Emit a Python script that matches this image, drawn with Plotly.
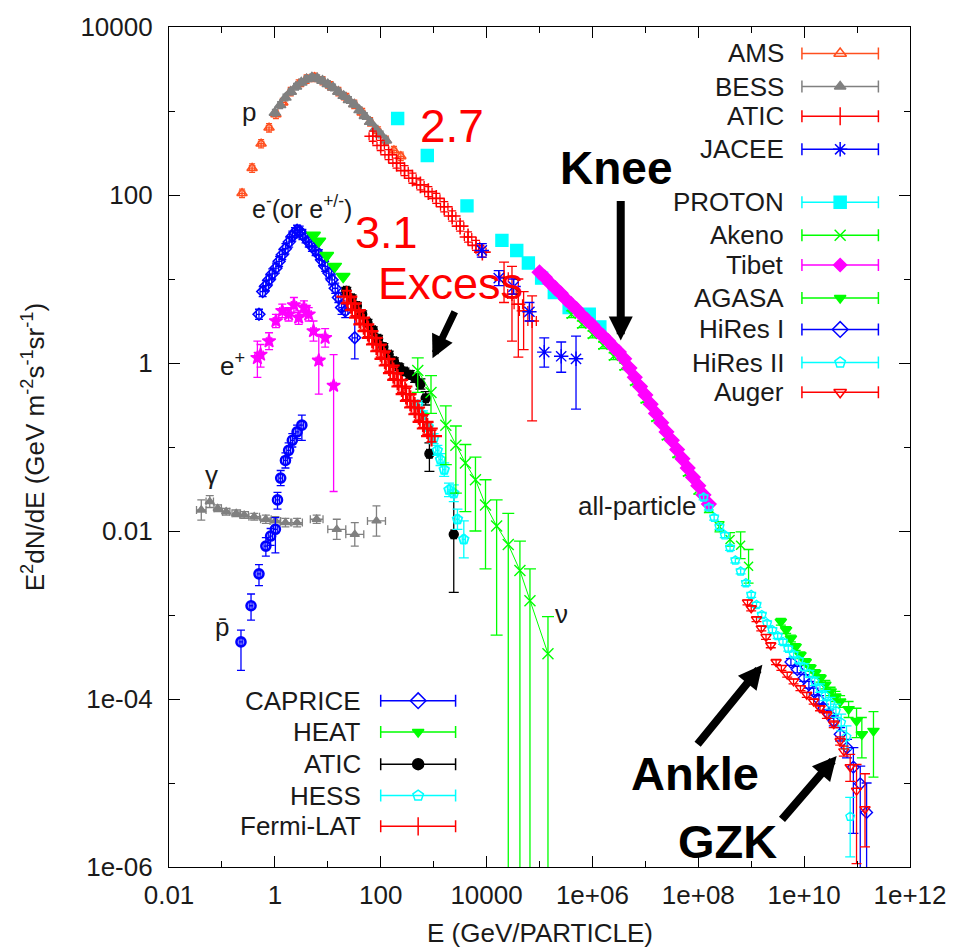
import numpy as np
import plotly.graph_objects as go

# ---------------- axis ticks ----------------
X_TICKS = [1e-2, 1e0, 1e2, 1e4, 1e6, 1e8, 1e10, 1e12]
X_TICKTEXT = ["0.01", "1", "100", "10000", "1e+06", "1e+08", "1e+10", "1e+12"]
X_MINOR = [1e-1, 1e1, 1e3, 1e5, 1e7, 1e9, 1e11]
Y_TICKS = [1e-6, 1e-4, 1e-2, 1e0, 1e2, 1e4]
Y_TICKTEXT = ["1e-06", "1e-04", "0.01", "1", "100", "10000"]
Y_MINOR = [1e-5, 1e-3, 1e-1, 1e1, 1e3]

# ---------------- data: log10(E / GeV) and log10(E^2 dN/dE) ----------------
# protons
AMS_lE = [-0.62, -0.43, -0.26, -0.11, 0.02, 0.15, 0.30, 0.45, 0.60, 0.75, 0.90, 1.05, 1.20, 1.35, 1.50, 1.65, 1.80, 1.95, 2.10, 2.25, 2.38]
AMS_lF = [2.02, 2.32, 2.61, 2.80, 2.96, 3.10, 3.23, 3.32, 3.38, 3.40, 3.36, 3.30, 3.23, 3.16, 3.08, 2.98, 2.87, 2.76, 2.65, 2.53, 2.46]

BESS_lE = [0.0, 0.1, 0.2, 0.3, 0.4, 0.5, 0.6, 0.7, 0.8, 0.9, 1.0, 1.1, 1.2, 1.3, 1.4, 1.5, 1.6, 1.7, 1.8, 1.9, 2.0, 2.1]
BESS_lF = [2.98, 3.07, 3.16, 3.23, 3.29, 3.34, 3.38, 3.40, 3.39, 3.36, 3.32, 3.28, 3.23, 3.18, 3.13, 3.08, 3.01, 2.94, 2.87, 2.79, 2.72, 2.65]

ATICP_lE = [1.85, 2.0, 2.15, 2.3, 2.45, 2.6, 2.75, 2.9, 3.05, 3.2, 3.35, 3.5, 3.65, 3.8, 3.92]
ATICP_lF = [2.70, 2.59, 2.48, 2.38, 2.29, 2.20, 2.12, 2.04, 1.96, 1.86, 1.75, 1.63, 1.50, 1.40, 1.32]
ATICP_HI_lE = [4.33, 4.48, 4.60, 4.70, 4.86]
ATICP_HI_lF = [1.02, 0.82, 0.70, 0.62, 0.50]
ATICP_HI_up = [1.20, 1.15, 1.00, 0.85, 0.80]
ATICP_HI_low = [0.72, 0.26, 0.07, 0.16, -0.69]

JACEE_lE = [3.91, 4.23, 4.51, 4.81, 5.09, 5.41, 5.69]
JACEE_lF = [1.34, 1.01, 0.91, 0.61, 0.13, 0.08, 0.05]
JACEE_up = [1.42, 1.10, 1.00, 0.72, 0.30, 0.25, 0.32]
JACEE_low = [1.26, 0.92, 0.82, 0.50, -0.05, -0.11, -0.55]

PROTON_lE = [2.32, 2.88, 3.63, 4.29, 4.57, 4.79, 5.04, 5.28, 5.56, 5.94, 6.14]
PROTON_lF = [2.91, 2.47, 1.87, 1.46, 1.34, 1.19, 1.01, 0.84, 0.66, 0.58, 0.43]

# all-particle
AKENO_lE = [5.6, 5.8, 6.0, 6.2, 6.4, 6.6, 6.8, 7.0, 7.2, 7.4, 7.6, 7.8, 8.0, 8.2, 8.4, 8.6, 8.8, 8.95]
AKENO_lF = [0.58, 0.46, 0.34, 0.21, 0.08, -0.04, -0.22, -0.43, -0.65, -0.87, -1.08, -1.30, -1.51, -1.73, -1.95, -2.10, -2.17, -2.42]
AKENO_dF = [0.04, 0.04, 0.04, 0.04, 0.04, 0.04, 0.04, 0.04, 0.04, 0.04, 0.04, 0.04, 0.05, 0.05, 0.06, 0.08, 0.16, 0.20]

TIBET_lE = [5.0, 5.1, 5.2, 5.3, 5.4, 5.5, 5.6, 5.7, 5.8, 5.9, 6.0, 6.1, 6.2, 6.3, 6.4, 6.5, 6.6,
            6.7, 6.8, 6.9, 7.0, 7.1, 7.2, 7.3, 7.4, 7.5, 7.6, 7.7, 7.8, 7.9, 8.0, 8.1, 8.2]
TIBET_lF = [1.08, 1.02, 0.95, 0.89, 0.83, 0.76, 0.70, 0.64, 0.57, 0.51, 0.45, 0.38, 0.32, 0.26, 0.19, 0.13, 0.05,
            -0.06, -0.17, -0.28, -0.38, -0.49, -0.60, -0.71, -0.82, -0.92, -1.03, -1.14, -1.25, -1.36, -1.46, -1.57, -1.68]

AGASA_lE = [9.56, 9.66, 9.75, 9.84, 9.93, 10.03, 10.12, 10.21, 10.31, 10.40, 10.50, 10.59, 10.68, 10.84, 10.99, 11.09, 11.31]
AGASA_lF = [-3.08, -3.18, -3.28, -3.38, -3.48, -3.56, -3.63, -3.69, -3.75, -3.83, -3.91, -3.97, -4.03, -4.12, -4.26, -4.42, -4.38]
AGASA_up = [-3.04, -3.14, -3.24, -3.34, -3.44, -3.52, -3.59, -3.65, -3.71, -3.78, -3.86, -3.91, -3.96, -4.03, -4.11, -4.22, -4.15]
AGASA_low = [-3.12, -3.22, -3.32, -3.42, -3.52, -3.60, -3.67, -3.73, -3.80, -3.88, -3.96, -4.03, -4.10, -4.22, -4.46, -4.70, -4.93]

HIRES1_lE = [9.75, 9.87, 10.0, 10.09, 10.18, 10.28, 10.37, 10.47, 10.56, 10.68, 10.81, 10.93, 11.06, 11.18]
HIRES1_lF = [-3.56, -3.65, -3.75, -3.83, -3.91, -4.01, -4.11, -4.18, -4.26, -4.42, -4.58, -4.81, -5.01, -5.35]
HIRES1_up = [-3.52, -3.61, -3.71, -3.79, -3.87, -3.96, -4.06, -4.13, -4.20, -4.34, -4.48, -4.58, -4.80, -5.00]
HIRES1_low = [-3.60, -3.69, -3.79, -3.87, -3.95, -4.06, -4.16, -4.23, -4.32, -4.50, -4.70, -5.60, -6.20, -6.20]

HIRES2_lE = [8.1, 8.2, 8.3, 8.4, 8.5, 8.6, 8.7, 8.8, 8.9, 9.0, 9.1, 9.2, 9.3, 9.4, 9.5, 9.6, 9.7, 9.8, 9.9,
             10.0, 10.1, 10.2, 10.3, 10.4, 10.5, 10.6, 10.7, 10.8, 10.87]
HIRES2_lF = [-1.60, -1.72, -1.84, -1.95, -2.05, -2.20, -2.35, -2.48, -2.62, -2.76, -2.88, -3.00, -3.10, -3.18, -3.25,
             -3.32, -3.40, -3.47, -3.54, -3.62, -3.70, -3.79, -3.87, -3.96, -4.05, -4.14, -4.28, -4.45, -5.40]
HIRES2_up = [-1.57, -1.69, -1.81, -1.92, -2.02, -2.17, -2.32, -2.45, -2.59, -2.73, -2.85, -2.97, -3.07, -3.15, -3.22,
             -3.29, -3.37, -3.44, -3.51, -3.58, -3.66, -3.74, -3.82, -3.90, -3.98, -4.06, -4.18, -4.32, -5.17]
HIRES2_low = [-1.63, -1.75, -1.87, -1.98, -2.08, -2.23, -2.38, -2.51, -2.65, -2.79, -2.91, -3.03, -3.13, -3.21, -3.28,
              -3.35, -3.43, -3.50, -3.57, -3.66, -3.74, -3.84, -3.92, -4.02, -4.12, -4.22, -4.38, -4.60, -5.88]

AUGER_lE = [8.93, 9.0, 9.1, 9.19, 9.28, 9.37, 9.47, 9.57, 9.68, 9.8, 9.93, 10.05, 10.18, 10.3, 10.43, 10.56, 10.68, 10.75, 10.87, 10.99, 11.15]
AUGER_lF = [-2.85, -2.92, -3.05, -3.16, -3.26, -3.36, -3.56, -3.63, -3.71, -3.79, -3.87, -3.95, -4.03, -4.11, -4.19, -4.30, -4.50, -4.62, -4.81, -5.09, -5.31]
AUGER_up = [-2.82, -2.89, -3.02, -3.13, -3.23, -3.33, -3.53, -3.60, -3.68, -3.76, -3.84, -3.92, -4.00, -4.08, -4.15, -4.26, -4.45, -4.56, -4.66, -4.78, -4.89]
AUGER_low = [-2.88, -2.95, -3.08, -3.19, -3.29, -3.39, -3.59, -3.66, -3.74, -3.82, -3.90, -3.98, -4.06, -4.14, -4.23, -4.34, -4.55, -4.68, -4.98, -5.96, -5.76]

# electrons / positrons / antiprotons / gamma / neutrino
CAPRICE_lE = [-0.30, -0.23, -0.17, -0.11, -0.05, 0.02, 0.08, 0.14, 0.20, 0.27, 0.33, 0.38, 0.42, 0.47, 0.52,
              0.58, 0.64, 0.70, 0.77, 0.83, 0.89, 0.95, 1.02, 1.08, 1.14, 1.20, 1.26, 1.33, 1.51]
CAPRICE_lF = [0.58, 0.85, 0.92, 0.99, 1.06, 1.13, 1.21, 1.29, 1.36, 1.44, 1.51, 1.55, 1.58, 1.57, 1.53,
              1.49, 1.44, 1.39, 1.34, 1.29, 1.22, 1.15, 1.07, 0.99, 0.89, 0.78, 0.66, 0.62, 0.30]
CAPRICE_dF = [0.06] * 26 + [0.08, 0.08, 0.25]

HEAT_lE = [0.73, 0.83, 0.98, 1.13, 1.29]
HEAT_lF = [1.52, 1.45, 1.28, 1.15, 1.03]

ATICE_lE = [1.35, 1.45, 1.55, 1.65, 1.75, 1.85, 1.95, 2.05, 2.15, 2.25, 2.35, 2.45, 2.55, 2.65, 2.75, 2.85, 2.92, 3.38]
ATICE_lF = [0.86, 0.77, 0.68, 0.58, 0.48, 0.39, 0.29, 0.19, 0.10, 0.02, -0.05, -0.10, -0.14, -0.18, -0.25, -0.42, -1.08, -2.04]
ATICE_up = [0.90, 0.81, 0.72, 0.62, 0.52, 0.43, 0.33, 0.23, 0.14, 0.06, -0.01, -0.06, -0.09, -0.13, -0.19, -0.34, -0.95, -1.55]
ATICE_low = [0.82, 0.73, 0.64, 0.54, 0.44, 0.35, 0.25, 0.15, 0.06, -0.02, -0.09, -0.14, -0.19, -0.23, -0.31, -0.50, -1.29, -2.73]

HESS_lE = [2.70, 2.80, 2.90, 3.00, 3.07, 3.13, 3.20, 3.29, 3.38, 3.45, 3.57]
HESS_lF = [-0.50, -0.62, -0.76, -0.90, -1.04, -1.15, -1.27, -1.51, -1.55, -1.86, -2.10]
HESS_dF = [0.05, 0.05, 0.05, 0.06, 0.06, 0.07, 0.08, 0.08, 0.10, 0.12, 0.22]

FERMI_lE = [1.36, 1.44, 1.52, 1.60, 1.68, 1.76, 1.84, 1.92, 2.00, 2.08, 2.16, 2.24, 2.32, 2.40, 2.48, 2.56, 2.64, 2.72, 2.80, 2.88, 2.96]
FERMI_lF = [0.79, 0.71, 0.63, 0.54, 0.46, 0.38, 0.30, 0.22, 0.14, 0.05, -0.03, -0.12, -0.20, -0.28, -0.37, -0.45, -0.53, -0.61, -0.70, -0.78, -0.87]

POSITRON_lE = [-0.33, -0.27, -0.11, 0.02, 0.14, 0.26, 0.36, 0.45, 0.55, 0.64, 0.73, 0.83, 0.95, 1.11]
POSITRON_lF = [0.06, 0.10, 0.26, 0.50, 0.62, 0.58, 0.69, 0.54, 0.66, 0.58, 0.38, 0.03, 0.30, -0.27]
POSITRON_up = [0.26, 0.22, 0.36, 0.58, 0.70, 0.66, 0.78, 0.62, 0.74, 0.66, 0.50, 0.34, 0.41, 0.10]
POSITRON_low = [-0.17, -0.05, 0.16, 0.42, 0.54, 0.50, 0.60, 0.46, 0.58, 0.50, 0.26, -0.37, 0.19, -1.53]

PBAR_lE = [-0.64, -0.45, -0.30, -0.17, -0.08, 0.01, 0.05, 0.11, 0.20, 0.26, 0.33, 0.42, 0.51]
PBAR_lF = [-3.32, -2.89, -2.51, -2.18, -2.06, -1.98, -1.63, -1.37, -1.16, -1.04, -0.92, -0.82, -0.74]
PBAR_up = [-3.18, -2.75, -2.40, -2.08, -1.97, -1.84, -1.54, -1.28, -1.07, -0.95, -0.84, -0.74, -0.62]
PBAR_low = [-3.66, -3.06, -2.65, -2.30, -2.17, -2.26, -1.74, -1.46, -1.25, -1.13, -1.00, -0.90, -0.92]

GAMMA_lE = [-1.39, -1.23, -1.08, -0.92, -0.73, -0.58, -0.39, -0.17, 0.01, 0.20, 0.42, 0.79, 1.17, 1.51, 1.92]
GAMMA_lF = [-1.75, -1.65, -1.73, -1.77, -1.79, -1.81, -1.83, -1.86, -1.88, -1.90, -1.90, -1.86, -1.98, -2.04, -1.88]
GAMMA_dF = [0.12, 0.07, 0.04, 0.04, 0.04, 0.04, 0.04, 0.05, 0.05, 0.05, 0.05, 0.05, 0.12, 0.14, 0.18]
GAMMA_dE = [0.09, 0.07, 0.07, 0.07, 0.08, 0.08, 0.10, 0.10, 0.10, 0.10, 0.10, 0.12, 0.17, 0.17, 0.17]

NU_lE = [2.70, 2.95, 3.23, 3.42, 3.60, 3.79, 3.98, 4.19, 4.41, 4.63, 4.82, 5.16]
NU_lF = [-0.09, -0.35, -0.74, -0.98, -1.19, -1.39, -1.69, -1.94, -2.16, -2.47, -2.83, -3.46]
NU_up = [0.06, -0.15, -0.51, -0.75, -0.97, -1.12, -1.39, -1.63, -1.79, -2.12, -2.45, -3.02]
NU_low = [-0.35, -0.60, -1.21, -1.55, -1.77, -2.00, -2.45, -3.24, -7.0, -7.0, -7.0, -7.0]

# ---------------- colours ----------------
ORANGE = "#ff4f1f"
GREY = "#808080"
RED = "#ff0000"
BLUE = "#0000ff"
CYAN = "#00ffff"
GREEN = "#00ff00"
MAGENTA = "#ff00ff"
BLACK = "#000000"
TXT = "#1a1a1a"
FONT = "Liberation Sans, Arial, Helvetica, sans-serif"
FS = 26

# plot-area geometry in pixels (for decorations only)
PL, PR, PT, PB = 169, 917, 20, 867
W, H = 959, 949


def px(x):
    return (x - PL) / (PR - PL)


def py(y):
    return (PB - y) / (PB - PT)


fig = go.Figure()


def lin(v):
    return 10 ** np.asarray(v, dtype=float)


def add(lE, lF, color, symbol, size, dE=0.0, dF=None, up=None, low=None,
        mode="markers", lw=1.3, cap=3, mlw=1.4):
    E = lin(lE)
    F = lin(lF)
    ey = None
    if up is not None:
        ey = dict(type="data", symmetric=False, array=lin(up) - F, arrayminus=F - lin(low),
                  color=color, thickness=lw, width=cap)
    elif dF is not None:
        d = np.broadcast_to(np.asarray(dF, dtype=float), F.shape)
        ey = dict(type="data", symmetric=False, array=F * (10 ** d - 1), arrayminus=F * (1 - 10 ** (-d)),
                  color=color, thickness=lw, width=cap)
    ex = None
    dEa = np.broadcast_to(np.asarray(dE, dtype=float), E.shape)
    if np.any(dEa > 0):
        ex = dict(type="data", symmetric=False, array=E * (10 ** dEa - 1), arrayminus=E * (1 - 10 ** (-dEa)),
                  color=color, thickness=lw, width=cap)
    fig.add_trace(go.Scatter(
        x=E, y=F, mode=mode,
        marker=dict(symbol=symbol, size=size, color=color, line=dict(color=color, width=mlw)),
        line=dict(color=color, width=1),
        error_y=ey, error_x=ex, showlegend=False, hoverinfo="skip"))


# ---- low-energy species ----
add(GAMMA_lE, GAMMA_lF, GREY, "triangle-up", 8, dE=GAMMA_dE, dF=GAMMA_dF, cap=4)
add(PBAR_lE, PBAR_lF, BLUE, "circle-open", 9, dE=0.035, up=PBAR_up, low=PBAR_low, mlw=2.6, cap=4)
add(POSITRON_lE, POSITRON_lF, MAGENTA, "star", 10, dE=0.05, up=POSITRON_up, low=POSITRON_low, cap=4)

# ---- protons ----
add(AMS_lE, AMS_lF, ORANGE, "triangle-up-open", 9, dE=0.05, dF=0.05, mlw=1.6)
add(BESS_lE, BESS_lF, GREY, "triangle-up", 10, dE=0.04, dF=0.04)
add(ATICP_lE, ATICP_lF, RED, "cross-thin-open", 12, dE=0.07, dF=0.06, mlw=1.6, cap=4)
add(ATICP_HI_lE, ATICP_HI_lF, RED, "cross-thin-open", 10, dE=0.08, up=ATICP_HI_up, low=ATICP_HI_low, cap=5)
add(JACEE_lE, JACEE_lF, BLUE, "asterisk-open", 12, up=JACEE_up, low=JACEE_low, cap=5)
add(PROTON_lE, PROTON_lF, CYAN, "square", 12)

# ---- all-particle ----
add(AKENO_lE, AKENO_lF, GREEN, "x-thin-open", 9, dF=AKENO_dF, cap=5)
add(TIBET_lE, TIBET_lF, MAGENTA, "diamond", 11, dF=0.03)
add(AGASA_lE, AGASA_lF, GREEN, "triangle-down", 10, up=AGASA_up, low=AGASA_low, cap=5)
add(HIRES1_lE, HIRES1_lF, BLUE, "diamond-open", 9, up=HIRES1_up, low=HIRES1_low, cap=5)
add(HIRES2_lE, HIRES2_lF, CYAN, "pentagon-open", 9, up=HIRES2_up, low=HIRES2_low, cap=5)
add(AUGER_lE, AUGER_lF, RED, "triangle-down-open", 9, up=AUGER_up, low=AUGER_low, cap=5)

# ---- electrons ----
add(CAPRICE_lE, CAPRICE_lF, BLUE, "diamond-open", 9, dE=0.05, dF=CAPRICE_dF, mlw=1.6, cap=4)
add(HEAT_lE, HEAT_lF, GREEN, "triangle-down", 12, dF=0.03)
add(ATICE_lE, ATICE_lF, BLACK, "circle", 9, dE=0.05, up=ATICE_up, low=ATICE_low, cap=5)
add(HESS_lE, HESS_lF, CYAN, "pentagon-open", 10, dE=0.03, dF=HESS_dF, cap=5, mlw=1.8)
add(FERMI_lE, FERMI_lF, RED, "cross-thin-open", 15, dE=0.06, dF=0.07, mlw=2.2, lw=1.8, cap=5)

# ---- neutrinos ----
add(NU_lE, NU_lF, GREEN, "x-thin-open", 11, up=NU_up, low=NU_low, mode="lines+markers", cap=6)

# ---------------- legends (drawn by hand on an overlay axis in paper units) ----------------
TOP_LEGEND = [("AMS", ORANGE, "triangle-up-open", 11), ("BESS", GREY, "triangle-up", 10),
              ("ATIC", RED, "line-ns-open", 13), ("JACEE", BLUE, "asterisk-open", 12),
              ("PROTON", CYAN, "square", 12), ("Akeno", GREEN, "x-thin-open", 11),
              ("Tibet", MAGENTA, "diamond", 10), ("AGASA", GREEN, "triangle-down", 10),
              ("HiRes I", BLUE, "diamond-open", 12), ("HiRes II", CYAN, "pentagon-open", 11),
              ("Auger", RED, "triangle-down-open", 11)]
TOP_ROWS = [46.7, 80, 110, 143.3, 196.7, 230, 260, 293.3, 325, 358.3, 388.3]
BOT_LEGEND = [("CAPRICE", BLUE, "diamond-open", 12), ("HEAT", GREEN, "triangle-down", 10),
              ("ATIC", BLACK, "circle", 11), ("HESS", CYAN, "pentagon-open", 11),
              ("Fermi-LAT", RED, "line-ns-open", 13)]
BOT_ROWS = [699.3, 731, 763.3, 795, 826]

annotations = []


def legend_block(items, rows, text_right, sample_center, half_len):
    for (name, color, sym, size), ry in zip(items, rows):
        fig.add_trace(go.Scatter(
            x=[px(sample_center)], y=[py(ry)], xaxis="x2", yaxis="y2", mode="markers",
            marker=dict(symbol=sym, size=size, color=color, line=dict(color=color, width=1.5)),
            error_x=dict(type="data", array=[half_len / (PR - PL)], symmetric=True,
                         color=color, thickness=1.5, width=6),
            showlegend=False, hoverinfo="skip"))
        annotations.append(dict(x=px(text_right), y=py(ry), xref="paper", yref="paper", text=name,
                                xanchor="right", yanchor="middle", showarrow=False,
                                font=dict(family=FONT, size=FS, color=TXT)))


legend_block(TOP_LEGEND, TOP_ROWS, 792, 846.5, 38.6)
legend_block(BOT_LEGEND, BOT_ROWS, 365, 420.5, 37.8)


def label(x, y, text, size=FS, color=TXT, bold=False):
    annotations.append(dict(x=px(x), y=py(y), xref="paper", yref="paper",
                            text=("<b>%s</b>" % text) if bold else text,
                            showarrow=False, xanchor="center", yanchor="middle", borderpad=0,
                            font=dict(family=FONT, size=size, color=color)))


label(250, 106, "p")
label(303, 201, "e<sup>-</sup>(or e<sup>+/-</sup>)", 25)
label(233, 360, "e<sup>+</sup>")
label(212, 472, "γ")
label(222, 625, "p\u0304")
label(565, 612, "ν")
label(642, 503, "all-particle")
label(455, 120, "2.7", 46, RED)
label(389, 227, "3.1", 45, RED)
label(453, 279, "Excess", 45, RED)
label(620, 162, "Knee", 46, BLACK, True)
label(700, 773, "Ankle", 47, BLACK, True)
label(733, 841, "GZK", 47, BLACK, True)


def arrow(tail, tip, width=8, size=0.6):
    annotations.append(dict(x=px(tip[0]), y=py(tip[1]), xref="paper", yref="paper",
                            ax=tail[0] - tip[0], ay=tail[1] - tip[1], axref="pixel", ayref="pixel",
                            text="", showarrow=True, arrowhead=2, arrowsize=size,
                            arrowwidth=width, arrowcolor="black", standoff=0))


arrow((625, 195), (625, 336))
arrow((458, 306), (435, 354), width=7, size=0.65)
arrow((702, 744), (768, 663))
arrow((787, 820), (843, 755))

# axis titles
annotations.append(dict(x=0.5, y=py(934), xref="paper", yref="paper", text="E (GeV/PARTICLE)",
                        showarrow=False, xanchor="center", yanchor="middle",
                        font=dict(family=FONT, size=FS, color=TXT)))
annotations.append(dict(x=px(32), y=0.5, xref="paper", yref="paper",
                        text="E<sup>2</sup>dN/dE (GeV m<sup>-2</sup>s<sup>-1</sup>sr<sup>-1</sup>)",
                        showarrow=False, xanchor="center", yanchor="middle", textangle=-90,
                        font=dict(family=FONT, size=FS, color=TXT)))

axis_common = dict(type="log", ticks="inside", ticklen=11, tickwidth=1.2, tickcolor="black",
                   showline=True, linecolor="black", linewidth=1.2, mirror="ticks",
                   showgrid=False, zeroline=False,
                   tickfont=dict(family=FONT, size=FS, color=TXT))

fig.update_layout(
    width=W, height=H,
    margin=dict(l=PL, r=W - PR, t=PT, b=H - PB),
    paper_bgcolor="white", plot_bgcolor="white",
    font=dict(family=FONT, size=FS, color=TXT),
    showlegend=False,
    xaxis=dict(axis_common, range=[-2, 12], tickmode="array", tickvals=X_TICKS, ticktext=X_TICKTEXT,
               ticklabelstandoff=5,
               minor=dict(tickmode="array", tickvals=X_MINOR, ticks="inside", ticklen=6,
                          tickwidth=1.2, tickcolor="black", showgrid=False)),
    yaxis=dict(axis_common, range=[-6, 4], tickmode="array", tickvals=Y_TICKS, ticktext=Y_TICKTEXT,
               ticklabelstandoff=10,
               minor=dict(tickmode="array", tickvals=Y_MINOR, ticks="inside", ticklen=6,
                          tickwidth=1.2, tickcolor="black", showgrid=False)),
    xaxis2=dict(overlaying="x", anchor="y2", range=[0, 1], visible=False, fixedrange=True),
    yaxis2=dict(overlaying="y", anchor="x2", range=[0, 1], visible=False, fixedrange=True),
    annotations=annotations,
)

fig.write_html("out.html")
